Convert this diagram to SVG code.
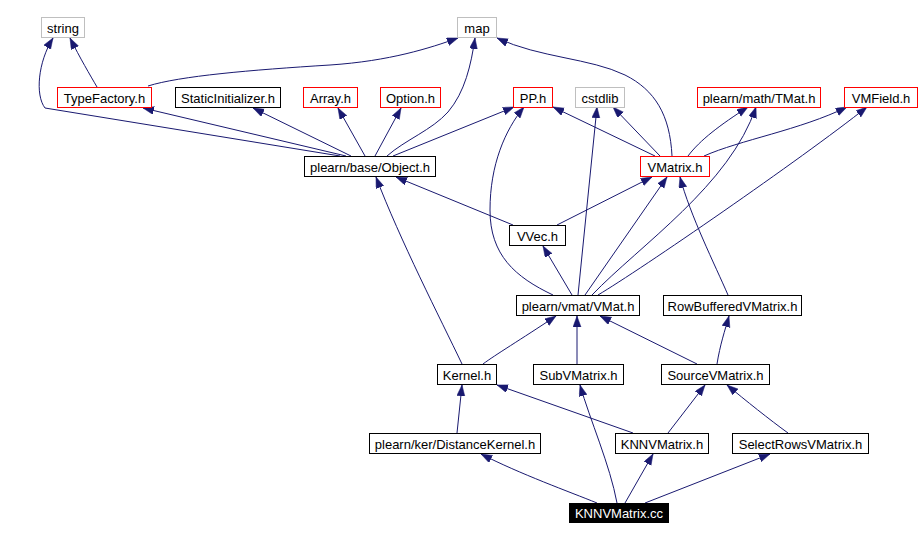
<svg xmlns="http://www.w3.org/2000/svg" width="921" height="540" viewBox="0 0 921 540">
<defs>
<marker id="ah" markerUnits="userSpaceOnUse" markerWidth="12" markerHeight="9" refX="11" refY="4" orient="auto">
<path d="M0,0 L11,4 L0,8 z" fill="#191970" stroke="#191970" stroke-width="0.5"/>
</marker>
<style>
.n rect{fill:#ffffff;stroke:#000000;stroke-width:1}
.n.g rect{stroke:#bfbfbf}
.n.r rect{stroke:#ff0000}
.n text{font-family:"Liberation Sans",Arial,sans-serif;font-size:13px;text-anchor:middle;fill:#000000}
.n.cur rect{fill:#000000;stroke:#000000}
.n.cur text{fill:#ffffff}
#edges path{fill:none;stroke:#191970;stroke-width:1;marker-end:url(#ah)}
</style>
</defs>
<rect width="921" height="540" fill="#ffffff"/>
<g id="edges">
<path d="M97,87 C90,75 80,58 70,38"/>
<path d="M340,156 L45,108 C35,95 38,62 53,38"/>
<path d="M346,156 L143,108"/>
<path d="M351,156 L253,108"/>
<path d="M365,156 L338,108"/>
<path d="M375,156 L401,108"/>
<path d="M387,156 C405,140 432,130 448,112 C465,92 471,65 475,38"/>
<path d="M148,86 C180,76 250,70 330,65 C390,61 430,48 458,38"/>
<path d="M672,156 C670,115 655,90 625,75 C590,58 540,58 497,38"/>
<path d="M393,156 L514,107"/>
<path d="M655,156 L553,107"/>
<path d="M553,295 C515,277 490,255 490,210 C490,165 505,130 524,107"/>
<path d="M578,295 L597,107"/>
<path d="M660,156 L613,107"/>
<path d="M688,156 C700,140 720,125 748,107"/>
<path d="M592,295 C640,245 730,185 756,107"/>
<path d="M704,156 C740,140 800,130 847,107"/>
<path d="M598,295 C640,270 800,160 867,107"/>
<path d="M513,225 L396,177"/>
<path d="M557,225 L652,177"/>
<path d="M572,295 L543,246"/>
<path d="M585,295 L667,177"/>
<path d="M728,295 C715,265 690,215 680,177"/>
<path d="M462,364 C440,318 400,240 376,177"/>
<path d="M483,364 C495,355 520,340 556,316"/>
<path d="M577,364 L577,316"/>
<path d="M697,364 L600,316"/>
<path d="M717,364 C720,345 725,330 729,316"/>
<path d="M457,433 L462,385"/>
<path d="M633,433 L497,385"/>
<path d="M668,433 L705,385"/>
<path d="M788,433 C770,420 745,400 727,385"/>
<path d="M597,503 C570,492 520,474 481,454"/>
<path d="M617,503 C610,465 590,420 580,385"/>
<path d="M625,503 L653,454"/>
<path d="M645,503 L770,454"/>
</g>
<g id="n_string" class="n g"><rect x="41.5" y="17.5" width="43" height="20"/><text x="63" y="33">string</text></g>
<g id="n_map" class="n g"><rect x="457.5" y="17.5" width="39" height="20"/><text x="477" y="33">map</text></g>
<g id="n_typefactory" class="n r"><rect x="57.5" y="87.5" width="94" height="20"/><text x="104.5" y="103">TypeFactory.h</text></g>
<g id="n_staticinit" class="n"><rect x="175.5" y="87.5" width="105" height="20"/><text x="228" y="103">StaticInitializer.h</text></g>
<g id="n_array" class="n r"><rect x="303.5" y="87.5" width="54" height="20"/><text x="330.5" y="103">Array.h</text></g>
<g id="n_option" class="n r"><rect x="380.5" y="87.5" width="60" height="20"/><text x="410.5" y="103">Option.h</text></g>
<g id="n_pp" class="n r"><rect x="513.5" y="87.5" width="39" height="20"/><text x="533" y="103">PP.h</text></g>
<g id="n_cstdlib" class="n g"><rect x="575.5" y="87.5" width="49" height="20"/><text x="600" y="103">cstdlib</text></g>
<g id="n_tmat" class="n r"><rect x="697.5" y="87.5" width="123" height="20"/><text x="759" y="103">plearn/math/TMat.h</text></g>
<g id="n_vmfield" class="n r"><rect x="844.5" y="87.5" width="73" height="20"/><text x="881" y="103">VMField.h</text></g>
<g id="n_object" class="n"><rect x="304.5" y="156.5" width="131" height="20"/><text x="370" y="172">plearn/base/Object.h</text></g>
<g id="n_vmatrix" class="n r"><rect x="640.5" y="156.5" width="69" height="20"/><text x="675" y="172">VMatrix.h</text></g>
<g id="n_vvec" class="n"><rect x="509.5" y="225.5" width="56" height="20"/><text x="537.5" y="241">VVec.h</text></g>
<g id="n_vmat" class="n"><rect x="516.5" y="295.5" width="123" height="20"/><text x="578" y="311">plearn/vmat/VMat.h</text></g>
<g id="n_rowbuffered" class="n"><rect x="663.5" y="295.5" width="138" height="20"/><text x="732.5" y="311">RowBufferedVMatrix.h</text></g>
<g id="n_kernel" class="n"><rect x="437.5" y="364.5" width="59" height="20"/><text x="467" y="380">Kernel.h</text></g>
<g id="n_subvmatrix" class="n"><rect x="533.5" y="364.5" width="90" height="20"/><text x="578.5" y="380">SubVMatrix.h</text></g>
<g id="n_source" class="n"><rect x="661.5" y="364.5" width="108" height="20"/><text x="715.5" y="380">SourceVMatrix.h</text></g>
<g id="n_distkernel" class="n"><rect x="369.5" y="433.5" width="171" height="20"/><text x="455" y="449">plearn/ker/DistanceKernel.h</text></g>
<g id="n_knnh" class="n"><rect x="615.5" y="433.5" width="93" height="20"/><text x="662" y="449">KNNVMatrix.h</text></g>
<g id="n_selectrows" class="n"><rect x="732.5" y="433.5" width="136" height="20"/><text x="800.5" y="449">SelectRowsVMatrix.h</text></g>
<g id="n_knncc" class="n cur"><rect x="569.5" y="503.5" width="99" height="19"/><text x="619" y="518">KNNVMatrix.cc</text></g>
</svg>
